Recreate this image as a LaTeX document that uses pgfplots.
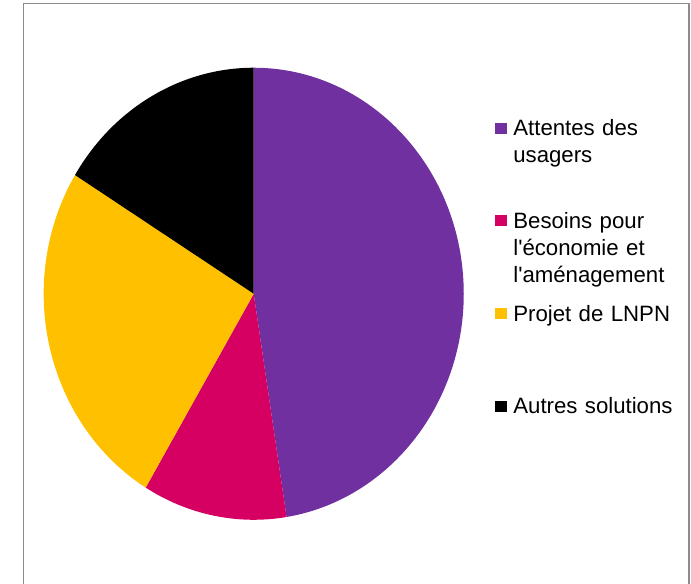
\documentclass[border=0pt]{standalone}
\usepackage{pgfplots}
\usepackage{pgfplotstable}
\pgfplotsset{compat=1.18}
\usepackage{fontspec}
\setmainfont{Liberation Sans}

\definecolor{piepurple}{HTML}{7030A0}
\definecolor{piered}{HTML}{D60063}
\definecolor{pieyellow}{HTML}{FFC000}
\definecolor{framegray}{HTML}{8C8C8C}

% shares in percent, clockwise from 12 o'clock
\pgfplotstableread{
part value
1 47.5
2 11.1
3 25.2
4 16.2
}\piedata

\pgfplotstablegetelem{0}{value}\of\piedata\let\va\pgfplotsretval
\pgfplotstablegetelem{1}{value}\of\piedata\let\vb\pgfplotsretval
\pgfplotstablegetelem{2}{value}\of\piedata\let\vc\pgfplotsretval
\pgfplotstablegetelem{3}{value}\of\piedata\let\vd\pgfplotsretval
\pgfmathsetmacro\aA{90}
\pgfmathsetmacro\aB{\aA-3.6*\va}
\pgfmathsetmacro\aC{\aB-3.6*\vb}
\pgfmathsetmacro\aD{\aC-3.6*\vc}
\pgfmathsetmacro\aE{\aD-3.6*\vd}

\begin{document}
\begin{tikzpicture}
\begin{axis}[
    x=105pt, y=113pt,
    xmin=-1.208, xmax=2.082,
    ymin=-1.280, ymax=1.2996,
    hide axis,
    clip=false,
    legend style={
        at={(axis cs:1.149,0.761)}, anchor=north west,
        draw=none, fill=none, inner sep=0pt, outer sep=0pt,
        row sep=0pt, column sep=3.3pt,
        font=\fontsize{11.1}{13.5}\selectfont,
        cells={anchor=base west},
        nodes={inner sep=0pt, outer sep=0pt, text width=4cm, align=left,
               text height=7pt, text depth=39.35pt},
    },
    legend image code/.code={\fill[#1] (0pt,1pt) rectangle (5.85pt,6.6pt);},
]
\fill[piepurple] (axis cs:0,0) -- ++(\aA:105pt and 113pt)
    arc[start angle=\aA, end angle=\aB, x radius=105pt, y radius=113pt] -- cycle;
\fill[piered] (axis cs:0,0) -- ++(\aB:105pt and 113pt)
    arc[start angle=\aB, end angle=\aC, x radius=105pt, y radius=113pt] -- cycle;
\fill[pieyellow] (axis cs:0,0) -- ++(\aC:105pt and 113pt)
    arc[start angle=\aC, end angle=\aD, x radius=105pt, y radius=113pt] -- cycle;
\fill[black] (axis cs:0,0) -- ++(\aD:105pt and 113pt)
    arc[start angle=\aD, end angle=\aE, x radius=105pt, y radius=113pt] -- cycle;

\addlegendimage{fill=piepurple, draw=none}
\addlegendentry{Attentes des\\usagers}
\addlegendimage{fill=piered, draw=none}
\addlegendentry{Besoins pour\\l\textquotesingle économie et\\l\textquotesingle aménagement}
\addlegendimage{fill=pieyellow, draw=none}
\addlegendentry{Projet de LNPN}
\addlegendimage{fill=black, draw=none}
\addlegendentry{Autres solutions}

\draw[framegray, line width=0.75pt]
    (axis cs:-1.097,-1.5) -- (axis cs:-1.097,1.285)
    -- (axis cs:2.073,1.285) -- (axis cs:2.073,-1.5);
\coordinate (bbsw) at (axis cs:-1.208,-1.280);
\coordinate (bbne) at (axis cs:2.082,1.2996);
\end{axis}
\pgfresetboundingbox
\useasboundingbox (bbsw) rectangle (bbne);
\end{tikzpicture}
\end{document}
